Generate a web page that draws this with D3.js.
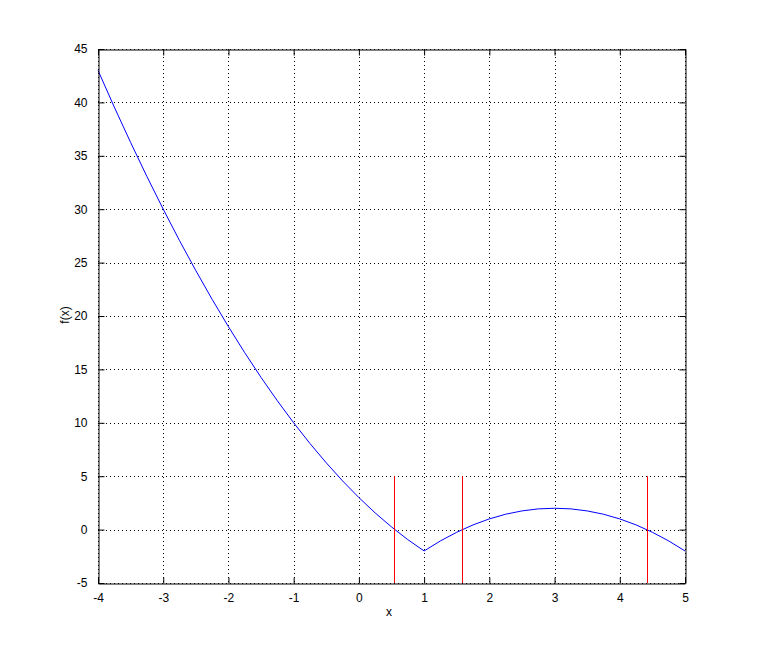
<!DOCTYPE html>
<html><head><meta charset="utf-8">
<script src="https://cdn.jsdelivr.net/npm/d3@7/dist/d3.min.js"></script>
<style>body{margin:0;background:#fff}svg{display:block}text{font-family:"Liberation Sans",Arial,sans-serif;font-size:12px;fill:#000}</style>
</head><body>
<svg id="c" width="757" height="655"></svg>
<script>
// Curve samples
const xs = [-4,-3.75,-3.5,-3.25,-3,-2.75,-2.5,-2.25,-2,-1.75,-1.5,-1.25,-1,-0.75,-0.5,-0.25,0,0.25,0.5,0.75,1,
            1.25,1.5,1.75,2,2.25,2.5,2.75,3,3.25,3.5,3.75,4,4.25,4.5,4.75,5];
const ys = [43,39.56,36.25,33.06,30,27.06,24.25,21.56,19,16.56,14.25,12.06,10,8.06,6.25,4.56,3,1.56,0.25,-0.94,-2,
            -1.06,-0.25,0.44,1,1.44,1.75,1.94,2,1.94,1.75,1.44,1,0.44,-0.25,-1.06,-2];
// Red vertical markers (roots)
const roots = [0.545, 1.586, 4.41];
const rootLow = -5, rootHigh = 5;
const xTicks = [-4,-3,-2,-1,0,1,2,3,4,5];
const yTicks = [-5,0,5,10,15,20,25,30,35,40,45];

const L=98,R=685,T=49,B=583;
const svg=d3.select("#c");
const x=d3.scaleLinear().domain([-4,5]).range([L,R]);
const y=d3.scaleLinear().domain([-5,45]).range([B,T]);
const g=svg.append("g");
// grid
g.selectAll(".gx").data(xTicks).join("line")
 .attr("x1",d=>Math.round(x(d))+0.5).attr("x2",d=>Math.round(x(d))+0.5).attr("y1",T).attr("y2",B)
 .attr("stroke","#000").attr("stroke-width",1).attr("stroke-dasharray","1,3");
g.selectAll(".gy").data(yTicks).join("line")
 .attr("y1",d=>Math.round(y(d))+0.5).attr("y2",d=>Math.round(y(d))+0.5).attr("x1",L).attr("x2",R)
 .attr("stroke","#000").attr("stroke-width",1).attr("stroke-dasharray","1,3");
// curve
const pts=xs.map((v,i)=>[v,ys[i]]);
g.append("path").datum(pts).attr("fill","none").attr("stroke","#0000ff").attr("stroke-width",1)
 .attr("d",d3.line().x(d=>x(d[0])).y(d=>y(d[1])));
// red lines
g.selectAll(".r").data(roots).join("line")
 .attr("x1",d=>Math.round(x(d))+0.5).attr("x2",d=>Math.round(x(d))+0.5)
 .attr("y1",y(rootHigh)).attr("y2",y(rootLow)).attr("stroke","#ff0000").attr("stroke-width",1);
// axes (box, inward ticks)
const tl=6;
const fmt=d=>String(d);
const ax=(gen,tr)=>svg.append("g").attr("transform",tr).call(gen);
ax(d3.axisBottom(x).tickValues(xTicks).tickSizeInner(-tl).tickSizeOuter(0).tickPadding(tl+4).tickFormat(fmt),`translate(0,${B+0.5})`);
ax(d3.axisLeft(y).tickValues(yTicks).tickSizeInner(-tl).tickSizeOuter(0).tickPadding(tl+5).tickFormat(fmt),`translate(${L+0.5},0)`);
ax(d3.axisTop(x).tickValues(xTicks).tickSizeInner(-tl).tickSizeOuter(0).tickFormat(""),`translate(0,${T+0.5})`);
ax(d3.axisRight(y).tickValues(yTicks).tickSizeInner(-tl).tickSizeOuter(0).tickFormat(""),`translate(${R+0.5},0)`);
svg.selectAll(".domain").attr("stroke","#000");
svg.selectAll(".tick line").attr("stroke","#000");
svg.selectAll(".tick text").attr("font-size",12).attr("font-family","Liberation Sans, Arial, sans-serif").attr("fill","#000");
svg.append("text").attr("x",389).attr("y",616).attr("text-anchor","middle").text("x");
svg.append("text").attr("transform","translate(69,315) rotate(-90)").attr("text-anchor","middle").text("f(x)");
</script>
</body></html>
